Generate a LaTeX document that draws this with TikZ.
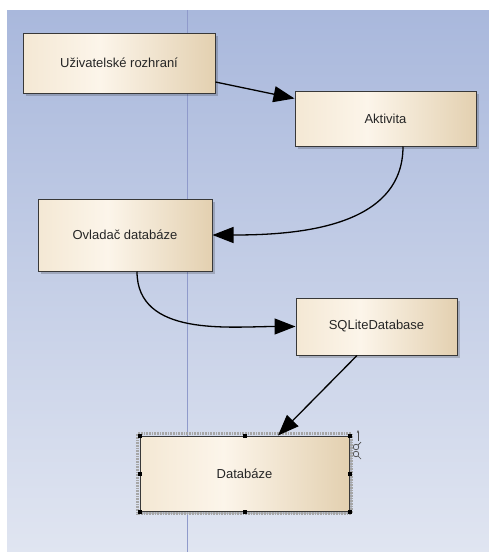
\documentclass[tikz,border=0pt]{standalone}
\usepackage{fontspec}
\setmainfont{Liberation Sans}
\usetikzlibrary{positioning,arrows.meta,shadows}

\definecolor{bgtop}{HTML}{A9B8DC}
\definecolor{bgbot}{HTML}{E0E5F1}
\definecolor{lane}{HTML}{8F9ACB}
\definecolor{boxl}{HTML}{F4E8D4}
\definecolor{boxm}{HTML}{FCF5EA}
\definecolor{boxr}{HTML}{E3D0B0}
\pgfdeclarehorizontalshading{boxfill}{100bp}{color(0bp)=(boxl); color(25bp)=(boxl); color(45bp)=(boxm); color(75bp)=(boxr); color(100bp)=(boxr)}

\tikzset{
  blok/.style={draw=black!78, line width=1pt, shading=boxfill,
    drop shadow={shadow xshift=2.5pt, shadow yshift=-2.5pt, fill=black, opacity=.18},
    inner sep=0pt, font=\fontsize{13}{15}\selectfont, text=black!85},
  vazba/.style={line width=1.3pt, -{Triangle[length=21pt,width=16pt]}},
  handle/.style={fill=black},
}

\begin{document}
\begin{tikzpicture}[x=1pt, y=-1pt]
  \useasboundingbox (0,0) rectangle (489,552);
  \shade[top color=bgtop, bottom color=bgbot] (7,10) rectangle (489,552);
  \draw[lane, line width=.8pt] (187,10) -- (187,552);

  \node[blok, minimum width=192pt, minimum height=60pt] (ui) at (119,63) {Uživatelské rozhraní};
  \node[blok, minimum width=181pt, minimum height=55pt, below right=-3pt and 79pt of ui] (akt) {Aktivita};
  \node[blok, minimum width=174pt, minimum height=72pt, below left=52pt and 82pt of akt] (ovl) {Ovladač databáze};
  \node[blok, minimum width=161pt, minimum height=57pt, below right=26pt and 83pt of ovl] (sql) {SQLiteDatabase};
  \node[blok, minimum width=209pt, minimum height=75pt, below left=80pt and -54pt of sql] (db) {Databáze};

  % selected element
  \draw[gray!70, line width=3pt, dash pattern=on .8pt off .8pt]
    ([shift={(-2pt,2pt)}]db.north west) rectangle ([shift={(2pt,-2pt)}]db.south east);
  \foreach \a in {north west, north, north east, east, south east, south, south west, west}
    \fill[handle] ([shift={(-2pt,-2pt)}]db.\a) rectangle ++(4pt,4pt);
  \draw[black!70, line width=.7pt, -{Stealth[length=3pt]}] (358,441) -- (358,430);
  \draw[black!70, line width=.7pt] (356,447) circle (2.8) (358,445) -- (361,442);
  \draw[black!70, line width=.7pt] (356,454) circle (2.8) (358,456) -- (361,459);

  \draw[vazba] ([yshift=-19pt]ui.east) -- ([yshift=20pt]akt.west);
  \draw[vazba] ([xshift=17.5pt]akt.south) to[out=-90, in=0] (ovl.east);
  \draw[vazba] ([xshift=12pt]ovl.south) to[out=-90, in=180] (sql.west);
  \draw[vazba] ([xshift=-19.5pt]sql.south) -- ([xshift=33.5pt]db.north);
\end{tikzpicture}
\end{document}
